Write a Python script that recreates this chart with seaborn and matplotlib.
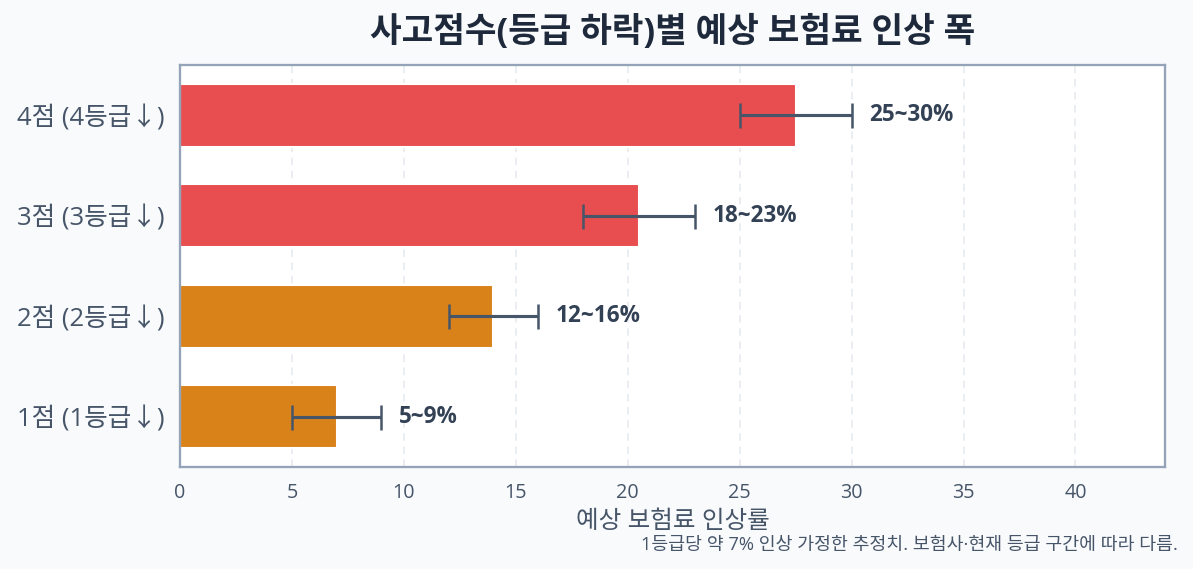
import numpy as np
import pandas as pd
import matplotlib
matplotlib.use("Agg")
import matplotlib.pyplot as plt
import seaborn as sns

# --------------------------- DATA ---------------------------
categories = ["4점 (4등급↓)", "3점 (3등급↓)", "2점 (2등급↓)", "1점 (1등급↓)"]
low = [25, 18, 12, 5]
high = [30, 23, 16, 9]
mid = [27.5, 20.5, 14, 7]
labels = ["25~30%", "18~23%", "12~16%", "5~9%"]
bar_colors = ["#e84e4f", "#e84e4f", "#d9821a", "#d9821a"]

df = pd.DataFrame({"grade": categories, "mid": mid, "low": low, "high": high})

# --------------------------- SETTINGS ---------------------------
sns.set_style("white")
plt.rcParams['font.family'] = ['Open Sans', 'Noto Sans CJK KR', 'DejaVu Sans']

fig = plt.figure(figsize=(1193 / 150, 569 / 150), dpi=150, facecolor="#f8fafc")
ax = fig.add_axes([180 / 1193, 1 - 467 / 569, (1165 - 180) / 1193, (467 - 65) / 569])
ax.set_facecolor("white")

sns.barplot(data=df, x="mid", y="grade", order=categories, hue="grade",
            palette=dict(zip(categories, bar_colors)), legend=False,
            width=0.63, saturation=1, ax=ax)

ypos = np.arange(len(categories))
err_lo = df["mid"] - df["low"]
err_hi = df["high"] - df["mid"]
ax.errorbar(df["mid"], ypos, xerr=[err_lo, err_hi], fmt="none",
            ecolor="#475569", elinewidth=1.5, capsize=6, capthick=1.2, zorder=4)

for y, h, t in zip(ypos, df["high"], labels):
    ax.text(h + 0.8, y, t, va="center", ha="left", fontsize=10.8,
            fontweight="bold", color="#334155")

ax.set_xlim(0, 44)
ax.set_ylim(3.5, -0.5)
ax.set_xticks(range(0, 45, 5))
ax.grid(axis="x", linestyle=(0, (4, 3)), color="#e9edf2", linewidth=0.9)
ax.set_axisbelow(True)

for s in ax.spines.values():
    s.set_color("#94a3b8")
    s.set_linewidth(1.1)

ax.tick_params(axis="y", labelsize=12.3, colors="#475569", length=4, width=0.9)
ax.tick_params(axis="x", labelsize=9.5, colors="#475569", length=4, width=0.9)
for lab in ax.get_yticklabels() + ax.get_xticklabels():
    lab.set_color("#475569")
ax.tick_params(axis="both", color="#64748b")

ax.set_ylabel("")
ax.set_xlabel("예상 보험료 인상률", fontsize=11.8, color="#475569", labelpad=3)
ax.set_title("사고점수(등급 하락)별 예상 보험료 인상 폭", fontsize=16.5,
             fontweight="bold", color="#1e293b", pad=11)

fig.text(1178 / 1193, 1 - 545 / 569, "1등급당 약 7% 인상 가정한 추정치. 보험사·현재 등급 구간에 따라 다름.",
         ha="right", va="center", fontsize=8.8, color="#475569")

fig.savefig("out.png", dpi=150, facecolor=fig.get_facecolor())
